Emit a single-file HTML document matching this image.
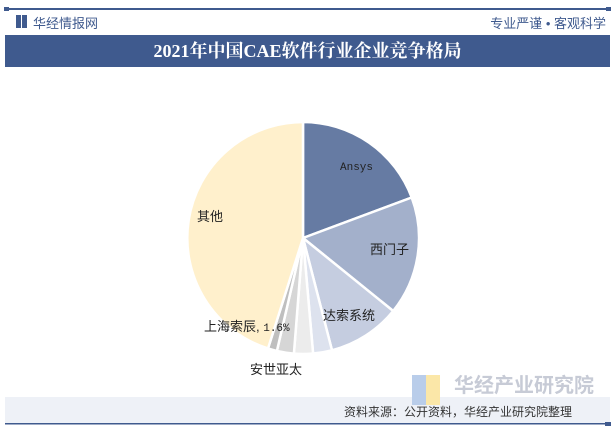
<!DOCTYPE html>
<html><head><meta charset="utf-8"><style>
body{margin:0;width:615px;height:431px;background:#fff;overflow:hidden;font-family:"Liberation Sans","Noto Sans CJK SC",sans-serif;position:relative}
.t{position:absolute}
</style></head><body>
<div class="t" style="left:5px;top:8px;width:605px;height:2px;background:#3f5a8e"></div>
<div class="t" style="left:4px;top:7px;width:5px;height:4px;background:#3f5a8e"></div>
<div class="t" style="left:606px;top:7px;width:5px;height:4px;background:#3f5a8e"></div>
<div class="t" style="left:16px;top:15px;width:5px;height:13px;background:#3f5a8e"></div>
<div class="t" style="left:22px;top:15px;width:5px;height:13px;background:#3f5a8e"></div>
<div class="t" style="left:33px;top:13px;font-size:13px;color:#3f5a8e">华经情报网</div>
<div class="t" style="right:9px;top:13px;font-size:13px;color:#3f5a8e">专业严谨 • 客观科学</div>
<div class="t" style="left:5px;top:35px;width:605px;height:32px;background:#3f5a8e;color:#fff;font-family:'Liberation Serif','Noto Serif CJK SC',serif;font-size:18px;font-weight:bold;text-align:center;line-height:32px">2021年中国CAE软件行业企业竞争格局</div>
<svg class="t" style="left:0;top:0" width="615" height="431">
<g stroke="#fff" stroke-width="2.5" stroke-linejoin="round">
<path d="M303,238 L303,122 A116,116 0 0 1 411.7,197.5Z" fill="#667ba3"/>
<path d="M303,238 L411.7,197.5 A116,116 0 0 1 393.2,311Z" fill="#a3b0cb"/>
<path d="M303,238 L393.2,311 A116,116 0 0 1 332,350.3Z" fill="#c5cde0"/>
<path d="M303,238 L332,350.3 A116,116 0 0 1 313.1,353.5Z" fill="#dde2ee"/>
<path d="M303,238 L313.1,353.5 A116,116 0 0 1 293.9,353.6Z" fill="#ececec"/>
<path d="M303,238 L293.9,353.6 A116,116 0 0 1 276.9,351Z" fill="#d6d6d6"/>
<path d="M303,238 L276.9,351 A116,116 0 0 1 268,348.5Z" fill="#bfbfbf"/>
<path d="M303,238 L268,348.5 A116,116 0 0 1 303,122Z" fill="#fff0cc"/>
</g>
<g font-size="13" fill="#222">
<text x="340" y="170" font-family="Liberation Mono,monospace" font-size="11">Ansys</text>
<text x="370" y="254">西门子</text>
<text x="323" y="320">达索系统</text>
<text x="197" y="221">其他</text>
<text x="204" y="331">上海索辰, <tspan font-family="Liberation Mono,monospace" font-size="11">1.6%</tspan></text>
<text x="250" y="374">安世亚太</text>
</g>
<rect x="5" y="397" width="605" height="26" fill="#eef1f7"/>
<rect x="5" y="423" width="605" height="1.5" fill="#3f5a8e"/>
<rect x="605" y="422" width="6" height="4" fill="#3f5a8e"/>
<rect x="412" y="375" width="14" height="30" fill="#b9cdea"/>
<rect x="426" y="375" width="14" height="30" fill="#fbe7a8"/>
<text x="454" y="392" font-size="20" font-weight="bold" fill="#c7cbd6">华经产业研究院</text>
<text x="344" y="416" font-size="12" fill="#333">资料来源：公开资料，华经产业研究院整理</text>
</svg>
</body></html>
